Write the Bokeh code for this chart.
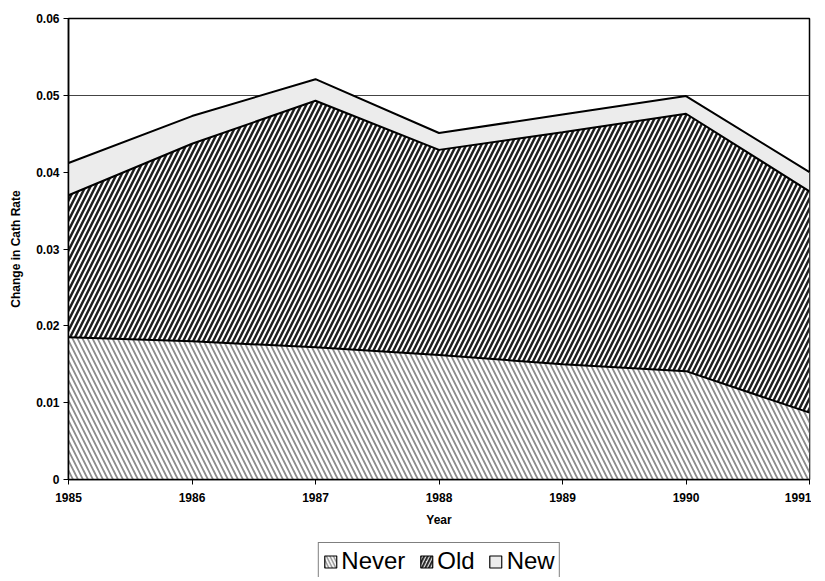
from bokeh.plotting import figure
from bokeh.layouts import column
from bokeh.models import (ColumnDataSource, Range1d, FixedTicker, NumeralTickFormatter,
                          Legend, LegendItem)
from bokeh.transform import stack
from bokeh.embed import file_html
from bokeh.resources import INLINE

years = [1985, 1986, 1987, 1988, 1989, 1990, 1991]
never = [0.0185, 0.0180, 0.0172, 0.0162, 0.0150, 0.0141, 0.0087]
old = [0.0185, 0.0257, 0.0321, 0.0267, 0.0302, 0.0335, 0.0288]
new = [0.0042, 0.0036, 0.0028, 0.0022, 0.0023, 0.0023, 0.0025]
series = ["Never", "Old", "New"]
y_ticks = [0, 0.01, 0.02, 0.03, 0.04, 0.05, 0.06]

source = ColumnDataSource(dict(year=years, Never=never, Old=old, New=new))

FONT = "Liberation Sans"
fills = ["white", "white", "#ececec"]
hatch_styles = [
    dict(hatch_pattern="\\", hatch_color="#8c8c8c", hatch_weight=1.8, hatch_scale=10),
    dict(hatch_pattern="/", hatch_color="#1e1e1e", hatch_weight=2.5, hatch_scale=10),
    dict(),
]

p = figure(width=811, height=539, output_backend="svg", toolbar_location=None,
           x_range=Range1d(1985, 1991), y_range=Range1d(0, 0.06),
           min_border_left=68, min_border_right=2, min_border_top=18, min_border_bottom=60)

for i, name in enumerate(series):
    lower = stack(*series[:i]) if i > 0 else 0
    upper = stack(*series[:i + 1])
    p.varea(x="year", y1=lower, y2=upper, source=source, fill_color=fills[i],
            **hatch_styles[i])

p.vline_stack(series, x="year", source=source, line_color="black", line_width=2)

p.xaxis.ticker = FixedTicker(ticks=years)
p.yaxis.ticker = FixedTicker(ticks=y_ticks)
p.ygrid.ticker = FixedTicker(ticks=y_ticks)
p.yaxis.formatter = NumeralTickFormatter(format="0.[00]")
p.xgrid.visible = False
p.ygrid.grid_line_color = "#444444"
p.ygrid.grid_line_width = 1

for ax in (p.xaxis, p.yaxis):
    ax.axis_line_color = "black"
    ax.axis_line_width = 1.5
    ax.major_tick_line_color = "black"
    ax.major_tick_out = 5
    ax.major_tick_in = 0
    ax.minor_tick_line_color = None
    ax.major_label_text_font = FONT
    ax.major_label_text_font_style = "bold"
    ax.major_label_text_font_size = "12px"
    ax.major_label_text_color = "black"
    ax.axis_label_text_font = FONT
    ax.axis_label_text_font_style = "bold"
    ax.axis_label_text_font_size = "12px"
    ax.axis_label_text_color = "black"

p.xaxis.axis_label = "Year"
p.yaxis.axis_label = "Change in Cath Rate"
p.xaxis.major_label_standoff = 8
p.xaxis.axis_label_standoff = 8
p.yaxis.major_label_standoff = 4
p.yaxis.axis_label_standoff = 10

p.outline_line_color = "black"
p.outline_line_width = 1.5
p.background_fill_color = "white"
p.border_fill_color = "white"

# legend figure below the chart
lp = figure(width=811, height=38, output_backend="svg", toolbar_location=None,
            min_border_left=68, min_border_right=2, min_border_top=0, min_border_bottom=0,
            x_range=Range1d(0, 1), y_range=Range1d(0, 1))
lp.axis.visible = False
lp.grid.visible = False
lp.outline_line_color = None
lp.border_fill_color = "white"

items = []
for i, name in enumerate(series):
    hs = dict(hatch_styles[i])
    if hs:
        hs["hatch_scale"] = 7
        hs["hatch_weight"] = hs["hatch_weight"] * 0.8
    r = lp.quad(left=[5], right=[6], top=[5], bottom=[4], fill_color=fills[i],
                line_color="black", line_width=1.2, **hs)
    items.append(LegendItem(label=name, renderers=[r]))

legend = Legend(items=items, orientation="horizontal", location="top_center",
                border_line_color="black", border_line_width=1,
                label_text_font=FONT, label_text_font_size="24px", label_text_color="black",
                glyph_width=15, glyph_height=15, label_standoff=4, spacing=13,
                padding=4, margin=3, background_fill_alpha=1)
lp.add_layout(legend, "center")

layout = column(p, lp, spacing=0)
open("out.html", "w").write(file_html(layout, INLINE))
